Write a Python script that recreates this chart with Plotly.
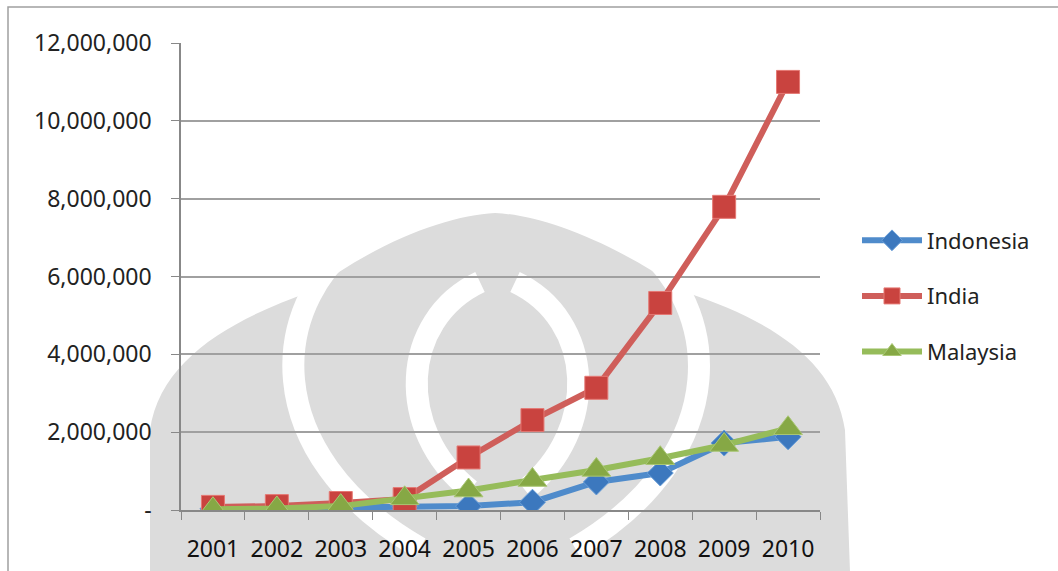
import plotly.graph_objects as go

years = ["2001", "2002", "2003", "2004", "2005", "2006", "2007", "2008", "2009", "2010"]
indonesia = [30000, 50000, 70000, 100000, 100000, 200000, 720000, 950000, 1720000, 1880000]
india = [80000, 100000, 180000, 280000, 1350000, 2310000, 3140000, 5320000, 7790000, 11000000]
malaysia = [20000, 40000, 100000, 300000, 500000, 770000, 1030000, 1330000, 1670000, 2100000]

tick_vals = [0, 2000000, 4000000, 6000000, 8000000, 10000000, 12000000]
tick_text = ["-", "2,000,000", "4,000,000", "6,000,000", "8,000,000", "10,000,000", "12,000,000"]

font_family = "Noto Sans, Open Sans, sans-serif"

# plot area in pixels (for decorative background watermark placement)
PL, PR, PT, PB = 181, 820, 43, 510


def X(px):
    return (px - PL) / (PR - PL)


def Y(py):
    return (PB - py) / (PB - PT)


def path(points, cmd_list):
    out = []
    i = 0
    for c in cmd_list:
        if c == "M" or c == "L":
            x, y = points[i]; i += 1
            out.append(f"{c} {X(x):.4f},{Y(y):.4f}")
        elif c == "C":
            seg = []
            for _ in range(3):
                x, y = points[i]; i += 1
                seg.append(f"{X(x):.4f},{Y(y):.4f}")
            out.append("C " + " ".join(seg))
        elif c == "Z":
            out.append("Z")
    return " ".join(out)


wm_gray = "#DCDCDC"
# outer watermark blob (decorative background)
blob = path(
    [(150, 571), (150, 430), (160, 360), (230, 320), (310, 292),
     (380, 240), (450, 215), (495, 213), (540, 215), (610, 240), (685, 292),
     (770, 320), (835, 360), (845, 430), (850, 571)],
    ["M", "L", "C", "C", "C", "C", "L", "Z"])
ring_left = path([(372, 228), (262, 300), (258, 455), (420, 548)], ["M", "C"])
ring_right = path([(620, 228), (730, 300), (734, 455), (575, 548)], ["M", "C"])
lens_left = path([(480, 282), (400, 320), (395, 430), (470, 490)], ["M", "C"])
lens_right = path([(515, 282), (595, 320), (600, 430), (525, 490)], ["M", "C"])

shapes = [
    dict(type="path", xref="paper", yref="paper", path=blob, fillcolor=wm_gray,
         line=dict(width=0), layer="below"),
    dict(type="path", xref="paper", yref="paper", path=ring_left,
         line=dict(color="white", width=22), layer="below"),
    dict(type="path", xref="paper", yref="paper", path=ring_right,
         line=dict(color="white", width=22), layer="below"),
    dict(type="path", xref="paper", yref="paper", path=lens_left,
         line=dict(color="white", width=22), layer="below"),
    dict(type="path", xref="paper", yref="paper", path=lens_right,
         line=dict(color="white", width=22), layer="below"),
    dict(type="rect", xref="paper", yref="paper", x0=X(8), x1=X(1200), y0=Y(700), y1=Y(7),
         line=dict(color="#A0A0A0", width=1.5), fillcolor="rgba(0,0,0,0)", layer="below"),
]

fig = go.Figure()
fig.add_trace(go.Scatter(
    x=years, y=indonesia, name="Indonesia", mode="lines+markers", legendgroup="a",
    line=dict(color="#4F8BCB", width=6),
    marker=dict(symbol="diamond", size=20, color="#3C78BE", line=dict(color="#6A9FD8", width=1)),
))
fig.add_trace(go.Scatter(
    x=years, y=india, name="India", mode="lines+markers", legendgroup="b",
    line=dict(color="#CF5E5A", width=6),
    marker=dict(symbol="square", size=23, color="#C9433F", line=dict(color="#E57873", width=1)),
))
fig.add_trace(go.Scatter(
    x=years, y=malaysia, name="Malaysia", mode="lines+markers", legendgroup="c",
    line=dict(color="#96BC5A", width=6),
    marker=dict(symbol="triangle-up", size=25, color="#86A845", line=dict(color="#A9C774", width=1)),
))

fig.update_layout(
    width=1058, height=571,
    margin=dict(l=PL, r=1058 - PR, t=PT, b=571 - PB),
    paper_bgcolor="white", plot_bgcolor="rgba(0,0,0,0)",
    font=dict(family=font_family, size=22, color="#222222"),
    showlegend=True,
    legend=dict(x=X(857), xanchor="left", xref="paper", y=Y(296), yanchor="middle",
                font=dict(size=22, color="#222222"), tracegroupgap=24,
                bgcolor="rgba(0,0,0,0)", itemwidth=60),
    xaxis=dict(
        type="category", showgrid=False, showline=True, linecolor="#888888", linewidth=1.5,
        ticks="outside", ticklen=8, tickcolor="#888888", tickson="boundaries",
        tickfont=dict(size=23, color="#111111"), range=[-0.5, 9.5], ticklabelstandoff=18,
        automargin=False,
    ),
    yaxis=dict(
        range=[0, 12000000], tickvals=tick_vals, ticktext=tick_text,
        showgrid=True, gridcolor="#A0A0A0", gridwidth=1.5,
        showline=True, linecolor="#888888", linewidth=1.5,
        ticks="outside", ticklen=8, tickcolor="#888888",
        tickfont=dict(size=23, color="#222222"), ticklabelstandoff=15,
        zeroline=False, automargin=False,
    ),
    shapes=shapes,
)

fig.write_html("out.html")
